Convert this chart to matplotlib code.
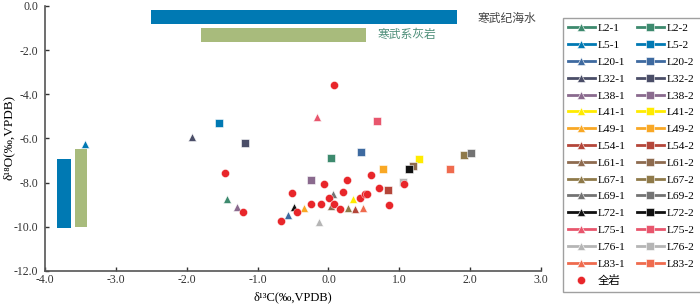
import matplotlib
matplotlib.use('Agg')
import matplotlib.pyplot as plt

plt.rcParams['font.family'] = ['Liberation Serif', 'Noto Sans CJK SC']

# 样品编号与颜色
samples = ['L2', 'L5', 'L20', 'L32', 'L38', 'L41', 'L49', 'L54',
           'L61', 'L67', 'L69', 'L72', 'L75', 'L76', 'L83']
colors = ['#3d8a6e', '#0079b3', '#3e6aa0', '#4b4e68', '#8a6a8e', '#ffeb00', '#f9a825', '#b4463a',
          '#8e6b4f', '#8f7a4a', '#737373', '#111111', '#e8566d', '#b5b5b5', '#ef6b4e']

# -1 样品 (三角)
c13_1 = [-1.43, -3.43, -0.57, -1.93, -1.29, 0.34, -0.35, 0.37,
         0.03, 0.27, 0.06, -0.48, -0.16, -0.13, 0.49]
o18_1 = [-8.74, -6.27, -9.47, -5.92, -9.10, -8.73, -9.13, -9.18,
         -9.07, -9.16, -8.50, -9.09, -5.01, -9.77, -9.16]

# -2 样品 (方块)
c13_2 = [0.04, -1.54, 0.46, -1.18, -0.25, 1.28, 0.77, 0.84,
         1.19, 1.91, 2.01, 1.14, 0.68, 1.05, 1.72]
o18_2 = [-6.90, -5.31, -6.60, -6.19, -7.88, -6.94, -7.37, -8.33,
         -7.25, -6.75, -6.67, -7.38, -5.21, -7.98, -7.40]

# 全岩
whole_c = [-1.46, 0.08, -1.21, -0.06, -0.51, -0.45, -0.24, -0.10, 0.01, -0.67, 0.26,
           0.60, 0.20, 0.08, 0.16, 0.45, 0.51, 0.55, 0.71, 0.85, 1.06]
whole_o = [-7.58, -3.56, -9.34, -8.08, -8.45, -9.33, -8.98, -8.95, -8.71, -9.72, -7.90,
           -7.65, -8.41, -8.98, -9.21, -8.71, -8.50, -8.51, -8.26, -9.03, -8.08]

# 寒武纪海水 / 寒武系灰岩 范围
sea_c = [-2.5, 1.82]
sea_o = [-6.95, -10.05]
lime_c = [-1.8, 0.53]
lime_o = [-6.48, -10.02]

blue = '#0079b3'
green = '#a8bb7c'

fig = plt.figure(figsize=(7, 3.05), dpi=100)
ax = fig.add_axes([0.0643, 0.1115, 0.7086, 0.8689])

# 横向范围条
ax.barh(-0.5, sea_c[1] - sea_c[0], left=sea_c[0], height=0.62, color=blue, zorder=1)
ax.barh(-1.33, lime_c[1] - lime_c[0], left=lime_c[0], height=0.64, color=green, zorder=1)
# 纵向范围条
ax.bar(-3.73, sea_o[1] - sea_o[0], bottom=sea_o[0], width=0.2, color=blue, zorder=1)
ax.bar(-3.495, lime_o[1] - lime_o[0], bottom=lime_o[0], width=0.17, color=green, zorder=1)

ax.text(2.1, -0.57, '寒武纪海水', fontsize=8.5, color='#444444', va='center', ha='left',
        family=['Noto Sans CJK SC'])
ax.text(0.7, -1.3, '寒武系灰岩', fontsize=8.5, color='#4f8f7a', va='center', ha='left',
        family=['Noto Sans CJK SC'])

h1, h2 = [], []
for i, s in enumerate(samples):
    l1, = ax.plot([c13_1[i]], [o18_1[i]], marker='^', linestyle='-', lw=2, color=colors[i],
                  ms=5.8, mec='white', mew=0.4, label=s + '-1', zorder=3)
    l2, = ax.plot([c13_2[i]], [o18_2[i]], marker='s', linestyle='-', lw=2, color=colors[i],
                  ms=5.2, mec='white', mew=0.4, label=s + '-2', zorder=3)
    h1.append(l1)
    h2.append(l2)
hw, = ax.plot(whole_c, whole_o, marker='o', linestyle='none', color='#e8262a', ms=5.8,
              mec='white', mew=0.3, label='全岩', zorder=4)

ax.set_xlim(-4, 3)
ax.set_ylim(-12, 0)
ax.set_xticks([-4, -3, -2, -1, 0, 1, 2, 3])
ax.set_yticks([0, -2, -4, -6, -8, -10, -12])
ax.xaxis.set_major_formatter(plt.FuncFormatter(lambda v, p: '%.1f' % v))
ax.yaxis.set_major_formatter(plt.FuncFormatter(lambda v, p: '%.1f' % v))
ax.tick_params(direction='in', length=3, labelsize=8.5, colors='#333333', width=1)
ax.tick_params(axis='y', pad=5)
ax.tick_params(axis='x', pad=2)
for sp in ['top', 'right']:
    ax.spines[sp].set_visible(False)
for sp in ['left', 'bottom']:
    ax.spines[sp].set_color('#555555')
    ax.spines[sp].set_linewidth(1.2)

ax.set_xlabel('δ¹³C(‰,VPDB)', fontsize=9)
ax.set_ylabel('δ¹⁸O(‰,VPDB)', fontsize=9.5)
ax.xaxis.set_label_coords(0.5, -0.122)
ax.yaxis.set_label_coords(-0.074, 0.505)
ax.xaxis.label.set_va('bottom')
ax.yaxis.label.set_va('center')

fig.legend(handles=h1 + [hw] + h2, ncol=2, loc='upper left',
           bbox_to_anchor=(557 / 700, 1 - 12 / 305), fontsize=8.2, frameon=True,
           fancybox=False, edgecolor='#888888', handlelength=2.3, handletextpad=0.3,
           columnspacing=1.0, labelspacing=0.6, borderpad=0.5)

fig.savefig('out.png', dpi=100)
